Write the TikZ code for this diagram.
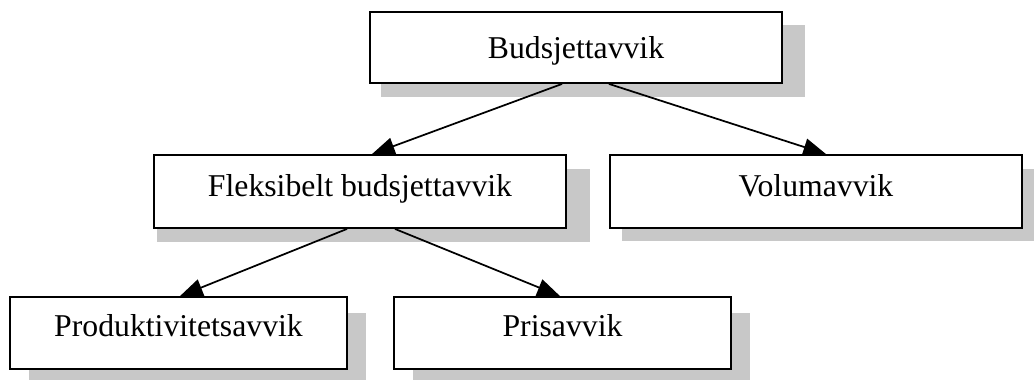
\documentclass[tikz,border=0pt]{standalone}
\usepackage{fontspec}
\setmainfont{Liberation Serif}
\usetikzlibrary{arrows.meta,calc}

\definecolor{shadowgray}{RGB}{200,200,200}

\tikzset{
  box/.style={draw=black, line width=1.4pt, fill=white, inner sep=0pt,
              font=\fontsize{23.8}{28}\selectfont, align=center},
  wide/.style={minimum width=309pt},
  narrow/.style={minimum width=252.75pt},
  link/.style={line width=1.3pt, -{Triangle[length=17pt,width=13pt]}},
  shade/.style={fill=shadowgray}
}

\begin{document}
\begin{tikzpicture}[x=0.75pt,y=-0.75pt]
  \useasboundingbox (0,0) rectangle (1034,380);

  % drop shadows behind the boxes
  \fill[shade] (381,25)  rectangle (805,97);
  \fill[shade] (157,169) rectangle (590,242);
  \fill[shade] (622,169) rectangle (1034,241);
  \fill[shade] (29,313)  rectangle (366,380);
  \fill[shade] (413,313) rectangle (750,380);

  % boxes
  \node[box, wide, minimum height=53.25pt, text height=16pt, text depth=0pt]
    (top) at (576,47.5) {Budsjettavvik};
  \node[box, wide, minimum height=54.75pt, text height=16pt, text depth=8.4pt]
    (flex) at (360,191.5) {Fleksibelt budsjettavvik};
  \node[box, wide, minimum height=54.75pt, text height=16pt, text depth=8.4pt]
    (vol) at (816,191.5) {Volumavvik};
  \node[box, narrow, minimum height=54pt, text height=16pt, text depth=10.7pt]
    (prod) at (178.5,333) {Produktivitetsavvik};
  \node[box, narrow, minimum height=54pt, text height=16pt, text depth=10.7pt]
    (pris) at (562.5,333) {Prisavvik};

  % connectors
  \draw[link] ($(top.south)+(-14,0)$) -- ($(flex.north)+(12,0)$);
  \draw[link] ($(top.south)+(33,0)$)  -- ($(vol.north)+(10,0)$);
  \draw[link] ($(flex.south)+(-13,0)$) -- ($(prod.north)+(1.5,0)$);
  \draw[link] ($(flex.south)+(35,0)$)  -- ($(pris.north)+(-2.5,0)$);
\end{tikzpicture}
\end{document}
